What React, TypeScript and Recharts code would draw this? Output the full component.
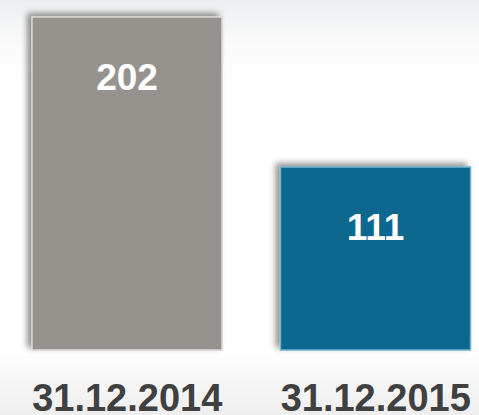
import React from 'react';
import { BarChart, Bar, XAxis, YAxis, Cell, LabelList } from 'recharts';

const dates = ['31.12.2014', '31.12.2015'];
const values = [202, 111];
const barColors = ['#96938e', '#08688f'];
const borderColors = ['#d8d6d2', '#6fb2cf'];

const chartData = dates.map((date, i) => ({ date, value: values[i] }));

const ValueLabel = (props: any) => {
  const { x, y, width, value } = props;
  return (
    <text
      x={x + width / 2}
      y={y + 73}
      textAnchor="middle"
      fill="#ffffff"
      fontSize={37}
      fontWeight="bold"
      fontFamily="'Liberation Sans', Arial, sans-serif"
    >
      {value}
    </text>
  );
};

export default function App() {
  return (
    <div
      style={{
        position: 'absolute',
        left: 0,
        top: 0,
        width: 479,
        height: 415,
        overflow: 'hidden',
        background:
          'linear-gradient(180deg, #eceeef 0%, #fafafa 10%, #ffffff 20%, #ffffff 85%, #f6f6f6 92%, #eeeeee 100%)',
      }}
    >
      <BarChart
        width={500}
        height={415}
        data={chartData}
        margin={{ top: 17, right: 0, bottom: 0, left: 3 }}
        style={{ fontFamily: "'Liberation Sans', Arial, sans-serif" }}
      >
        <defs>
          <filter id="barShadow" x="-20%" y="-20%" width="140%" height="140%">
            <feDropShadow dx={-4} dy={-3} stdDeviation={3} floodColor="#000" floodOpacity={0.45} />
          </filter>
        </defs>
        <XAxis
          dataKey="date"
          height={65}
          axisLine={false}
          tickLine={false}
          tickMargin={28}
          tick={{ fill: '#404040', fontSize: 38, fontWeight: 'bold' }}
          interval={0}
        />
        <YAxis hide domain={[0, 'dataMax']} />
        <Bar
          dataKey="value"
          barSize={190}
          isAnimationActive={false}
          filter="url(#barShadow)"
          strokeWidth={1.5}
        >
          {chartData.map((d, i) => (
            <Cell key={d.date} fill={barColors[i]} stroke={borderColors[i]} />
          ))}
          <LabelList dataKey="value" content={ValueLabel} />
        </Bar>
      </BarChart>
    </div>
  );
}
